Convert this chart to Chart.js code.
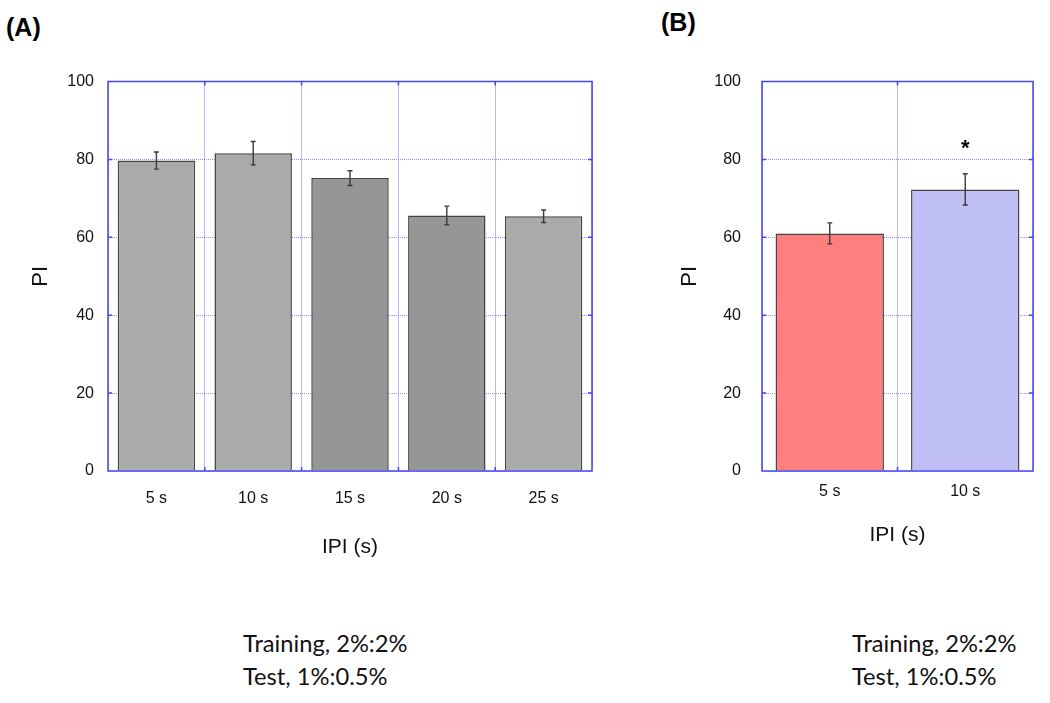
<!DOCTYPE html>
<html>
<head>
<meta charset="utf-8">
<script src="https://cdn.jsdelivr.net/npm/chart.js@4.4.0/dist/chart.umd.min.js"></script>
<style>
  html, body { margin: 0; padding: 0; background: #ffffff; }
  body { width: 1050px; height: 703px; position: relative; overflow: hidden; font-family: "Liberation Sans", Arial, sans-serif; }
  .panel { position: absolute; }
  .tag { position: absolute; font-family: "Liberation Sans", Arial, sans-serif; font-weight: bold; font-size: 25px; color: #000; }
  .note { position: absolute; font-family: Lato, "Open Sans", sans-serif; font-size: 23.7px; line-height: 33px; color: #111; white-space: nowrap; }
</style>
</head>
<body>
<div class="tag" style="left:6px; top:13px;">(A)</div>
<div class="tag" style="left:661px; top:8px;">(B)</div>
<div class="panel" style="left:0px; top:60px;"><canvas id="chartA" width="620" height="500"></canvas></div>
<div class="panel" style="left:650px; top:60px;"><canvas id="chartB" width="400" height="500"></canvas></div>
<div class="note" style="left:243px; top:627px;">Training, 2%:2%<br>Test, 1%:0.5%</div>
<div class="note" style="left:852px; top:627px;">Training, 2%:2%<br>Test, 1%:0.5%</div>
<script>
// ---- data ----
const categoriesA = ['5 s', '10 s', '15 s', '20 s', '25 s'];
const valuesA = [79.7, 81.6, 75.2, 65.6, 65.4];
const errorsA = [2.2, 3.0, 1.9, 2.4, 1.6];
const colorsA = ['#aaaaaa', '#aaaaaa', '#969696', '#969696', '#aaaaaa'];

const categoriesB = ['5 s', '10 s'];
const valuesB = [61.0, 72.3];
const errorsB = [2.7, 4.0];
const colorsB = ['#ff7f7f', '#bfbff5'];
const markersB = ['', '*'];
const markerValueB = 83.5;

const yTicks = [0, 20, 40, 60, 80, 100];
const yLabel = 'PI';
const xLabel = 'IPI (s)';

const frameColor = '#4646ee';
const gridColorX = '#7272fa';
const gridColorY = '#9090ff';

const framePlugin = {
  id: 'frameAndErrors',
  afterDatasetsDraw(chart, args, opts) {
    const ctx = chart.ctx;
    const a = chart.chartArea;
    const xs = chart.scales.x, ys = chart.scales.y;
    ctx.save();
    const meta = chart.getDatasetMeta(0);
    const vals = chart.data.datasets[0].data;
    const errs = opts.errors || [];
    ctx.strokeStyle = '#3a3a3a';
    ctx.lineWidth = 1.4;
    meta.data.forEach((bar, i) => {
      const x = bar.x;
      const yt = ys.getPixelForValue(vals[i] + errs[i]);
      const yb = ys.getPixelForValue(vals[i] - errs[i]);
      ctx.beginPath();
      ctx.moveTo(x, yt); ctx.lineTo(x, yb);
      ctx.moveTo(x - 2.5, yt); ctx.lineTo(x + 2.5, yt);
      ctx.moveTo(x - 2.5, yb); ctx.lineTo(x + 2.5, yb);
      ctx.stroke();
    });
    if (opts.markers) {
      ctx.fillStyle = '#000';
      ctx.font = 'bold 22px "Liberation Sans", Arial, sans-serif';
      ctx.textAlign = 'center';
      ctx.textBaseline = 'alphabetic';
      meta.data.forEach((bar, i) => {
        if (opts.markers[i]) ctx.fillText(opts.markers[i], bar.x, ys.getPixelForValue(opts.markerValue) + 9);
      });
    }
    ctx.strokeStyle = frameColor;
    ctx.lineWidth = 1.5;
    ctx.strokeRect(a.left, a.top, a.right - a.left, a.bottom - a.top);
    ctx.beginPath();
    yTicks.slice(1, -1).forEach(v => {
      const y = ys.getPixelForValue(v);
      ctx.moveTo(a.left, y); ctx.lineTo(a.left + 4, y);
      ctx.moveTo(a.right, y); ctx.lineTo(a.right - 4, y);
    });
    const n = chart.data.labels.length;
    for (let i = 1; i < n; i++) {
      const x = (xs.getPixelForValue(i - 1) + xs.getPixelForValue(i)) / 2;
      ctx.moveTo(x, a.top); ctx.lineTo(x, a.top + 4);
      ctx.moveTo(x, a.bottom); ctx.lineTo(x, a.bottom - 4);
    }
    ctx.stroke();
    ctx.restore();
  }
};

function makeChart(id, labels, values, colors, errors, markers, pad, yWidth, yGap, xTickPad, xTitlePad) {
  return new Chart(document.getElementById(id), {
    type: 'bar',
    data: {
      labels: labels,
      datasets: [{
        data: values,
        backgroundColor: colors,
        borderColor: '#444444',
        borderWidth: 1.5,
        categoryPercentage: 1.0,
        barPercentage: 0.8
      }]
    },
    options: {
      responsive: false,
      animation: false,
      layout: { padding: pad },
      plugins: {
        legend: { display: false },
        tooltip: { enabled: false },
        frameAndErrors: { errors: errors, markers: markers, markerValue: markerValueB }
      },
      scales: {
        x: {
          grid: { display: true, offset: true, color: gridColorX, lineWidth: 1, drawTicks: false },
          border: { display: false, dash: [1, 1] },
          ticks: { color: '#111', font: { family: '"Liberation Sans", Arial, sans-serif', size: 16 }, padding: xTickPad },
          title: { display: true, text: xLabel, color: '#111', font: { family: '"Liberation Sans", Arial, sans-serif', size: 21 }, padding: { top: 0, bottom: xTitlePad } },
          afterFit(scale) { scale.height = 89; }
        },
        y: {
          min: 0, max: 100,
          afterBuildTicks(scale) { scale.ticks = yTicks.map(v => ({ value: v })); },
          grid: { color: gridColorY, lineWidth: 1, drawTicks: true, tickLength: yGap, tickColor: 'rgba(0,0,0,0)' },
          border: { display: false, dash: [1, 1] },
          ticks: { color: '#111', font: { family: '"Liberation Sans", Arial, sans-serif', size: 16 }, padding: 0 },
          title: { display: true, text: yLabel, color: '#111', font: { family: '"Liberation Sans", Arial, sans-serif', size: 22 }, padding: { top: 0, bottom: 0 } },
          afterFit(scale) { scale.width = yWidth; }
        }
      }
    },
    plugins: [framePlugin]
  });
}

const cA = makeChart('chartA', categoriesA, valuesA, colorsA, errorsA, null,
  { left: 28, right: 28, top: 21.5, bottom: 0 }, 80, 14, 18, 0);
const cB = makeChart('chartB', categoriesB, valuesB, colorsB, errorsB, markersB,
  { left: 27, right: 17, top: 21.5, bottom: 0 }, 85, 21, 11, 12);
</script>
</body>
</html>
